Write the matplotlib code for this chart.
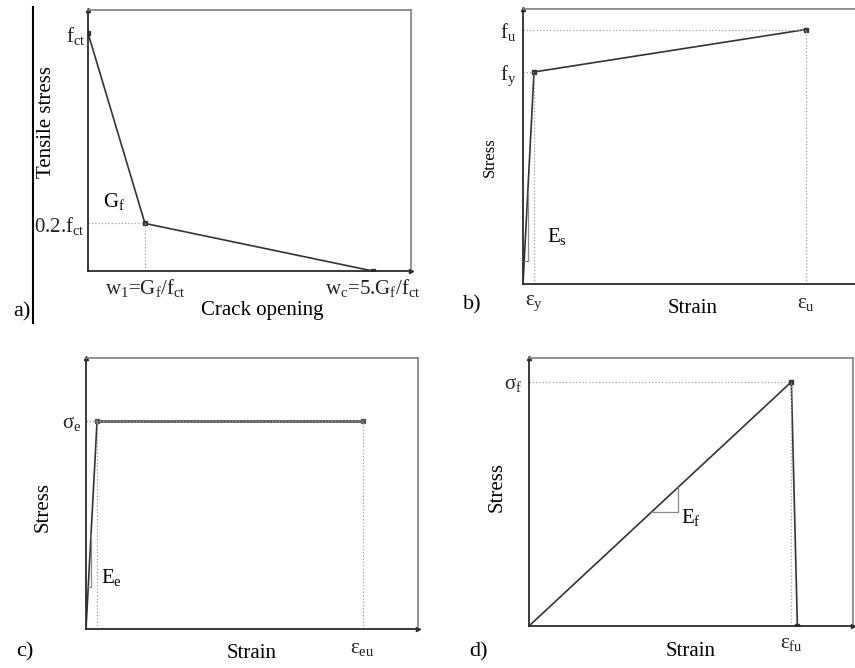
import matplotlib.pyplot as plt
from matplotlib.lines import Line2D

plt.rcParams['font.family'] = 'Liberation Serif'
plt.rcParams['mathtext.fontset'] = 'custom'
plt.rcParams['mathtext.rm'] = 'Liberation Serif'
plt.rcParams['mathtext.it'] = 'Liberation Serif:italic'

# a) bilinear tension softening of concrete (w in Gf/fct, stress in fct)
crack_w = [0, 1, 5]
crack_stress = [1, 0.2, 0]
# b) reinforcing steel, bilinear with hardening
steel_strain = [0, 0.039, 1.0]
steel_stress = [0, 1.0, 1.2]
# c) elastic - perfectly plastic
epp_strain = [0, 0.04, 1.0]
epp_stress = [0, 1.0, 1.0]
# d) linear elastic up to brittle rupture
frp_strain = [0, 1.0, 1.023]
frp_stress = [0, 1.0, 0]

W, H = 855, 668
LINE = '#333333'
DOT = '#a0a0a0'

fig = plt.figure(figsize=(W / 100, H / 100), dpi=100, facecolor='white')


def panel(left, top, right, bottom, xmax, ymax):
    ax = fig.add_axes([left / W, 1 - bottom / H, (right - left) / W, (bottom - top) / H])
    ax.set_xlim(0, xmax)
    ax.set_ylim(0, ymax)
    for side in ['top', 'right']:
        ax.spines[side].set_color('#808080')
        ax.spines[side].set_linewidth(1.2)
    for side in ['left', 'bottom']:
        ax.spines[side].set_color('#2a2a2a')
        ax.spines[side].set_linewidth(1.3)
    ax.tick_params(length=0, labelsize=15, colors='#222222')
    ax.plot(1, 0, '>', color='#2a2a2a', ms=3, transform=ax.transAxes, clip_on=False)
    ax.plot(0, 1, '^', color='#2a2a2a', ms=3, transform=ax.transAxes, clip_on=False)
    return ax


def guides(ax, x, y):
    ax.plot([0, x], [y, y], ls=':', color=DOT, lw=0.9)
    ax.plot([x, x], [0, y], ls=':', color=DOT, lw=0.9)


def slope(ax, slope_k, y0, y1):
    x0, x1 = y0 / slope_k, y1 / slope_k
    ax.plot([x0, x1, x1], [y0, y0, y1], color='#8a8a8a', lw=0.9)


# ---- a) ----
ax = panel(88, 10, 411, 271, 5.67, 1.097)
ax.plot(crack_w, crack_stress, color=LINE, lw=1.2, marker='s', ms=2.5)
ax.plot([0, crack_w[1]], [crack_stress[1]] * 2, ls=':', color=DOT, lw=0.9)
ax.plot([crack_w[1]] * 2, [0, crack_stress[1]], ls=':', color=DOT, lw=0.9)
ax.set_xticks(crack_w[1:])
ax.set_xticklabels(['w$_\\mathrm{1}$=G$_\\mathrm{f}$/f$_\\mathrm{ct}$',
                    'w$_\\mathrm{c}$=5.G$_\\mathrm{f}$/f$_\\mathrm{ct}$'])
ax.tick_params(axis='x', pad=4)
ax.set_yticks([crack_stress[1], crack_stress[0]])
ax.set_yticklabels(['0.2.f$_\\mathrm{ct}$', 'f$_\\mathrm{ct}$'])
ax.tick_params(axis='y', pad=2)
ax.set_xlabel('Crack opening', fontsize=15)
ax.xaxis.set_label_coords(0.54, -0.115)
ax.set_ylabel('Tensile stress', fontsize=15)
ax.yaxis.set_label_coords(-0.1, 0.57)
ax.text(0.26, 0.27, 'G$_\\mathrm{f}$', fontsize=15)

# ---- b) ----
ax = panel(523, 9, 862, 284, 1.2, 1.297)
ax.plot(steel_strain, steel_stress, color=LINE, lw=1.2, marker='s', ms=2.5, markevery=[1, 2])
guides(ax, steel_strain[1], steel_stress[1])
guides(ax, steel_strain[2], steel_stress[2])
slope(ax, steel_stress[1] / steel_strain[1], 0.11, 0.44)
ax.set_xticks(steel_strain[1:])
ax.set_xticklabels(['ε$_\\mathrm{y}$', 'ε$_\\mathrm{u}$'])
ax.tick_params(axis='x', pad=7)
ax.set_yticks(steel_stress[1:])
ax.set_yticklabels(['f$_\\mathrm{y}$', 'f$_\\mathrm{u}$'])
ax.tick_params(axis='y', pad=5)
ax.set_xlabel('Strain', fontsize=15)
ax.xaxis.set_label_coords(0.5, -0.055)
ax.set_ylabel('Stress', fontsize=12)
ax.yaxis.set_label_coords(-0.075, 0.46)
ax.text(0.085, 0.2, 'E$_\\mathrm{s}$', fontsize=15)

# ---- c) ----
ax = panel(86, 358, 418, 629, 1.2, 1.303)
ax.plot(epp_strain[:2], epp_stress[:2], color=LINE, lw=1.2)
ax.plot(epp_strain[1:], epp_stress[1:], color='#555555', lw=2, marker='s', ms=2.5)
guides(ax, epp_strain[1], epp_stress[1])
guides(ax, epp_strain[2], epp_stress[2])
slope(ax, epp_stress[1] / epp_strain[1], 0.2, 0.45)
ax.set_xticks([epp_strain[2]])
ax.set_xticklabels(['ε$_\\mathrm{eu}$'])
ax.tick_params(axis='x', pad=7)
ax.set_yticks([epp_stress[1]])
ax.set_yticklabels(['σ$_\\mathrm{e}$'])
ax.tick_params(axis='y', pad=3)
ax.set_xlabel('Strain', fontsize=15)
ax.xaxis.set_label_coords(0.5, -0.055)
ax.set_ylabel('Stress', fontsize=15)
ax.yaxis.set_label_coords(-0.1, 0.45)
ax.text(0.055, 0.22, 'E$_\\mathrm{e}$', fontsize=15)

# ---- d) ----
ax = panel(529, 358, 853, 626, 1.235, 1.098)
ax.plot(frp_strain, frp_stress, color=LINE, lw=1.2, marker='s', ms=2.5, markevery=[1, 2])
guides(ax, frp_strain[1], frp_stress[1])
slope(ax, 1.0, 0.466, 0.568)
ax.set_xticks([frp_strain[1]])
ax.set_xticklabels(['ε$_\\mathrm{fu}$'])
ax.tick_params(axis='x', pad=6)
ax.set_yticks([frp_stress[1]])
ax.set_yticklabels(['σ$_\\mathrm{f}$'])
ax.tick_params(axis='y', pad=5)
ax.set_xlabel('Strain', fontsize=15)
ax.xaxis.set_label_coords(0.5, -0.06)
ax.set_ylabel('Stress', fontsize=15)
ax.yaxis.set_label_coords(-0.07, 0.52)
ax.text(0.58, 0.42, 'E$_\\mathrm{f}$', fontsize=15)

# panel letters and the divider next to a)
for label, x, y in [('a)', 22, 312), ('b)', 472, 305), ('c)', 25, 652), ('d)', 478, 652)]:
    fig.text(x / W, 1 - y / H, label, fontsize=16, ha='center', va='center')
fig.add_artist(Line2D([33 / W, 33 / W], [1 - 7 / H, 1 - 323 / H], color='black', lw=1.5))

fig.savefig('out.png', dpi=100, facecolor='white')
